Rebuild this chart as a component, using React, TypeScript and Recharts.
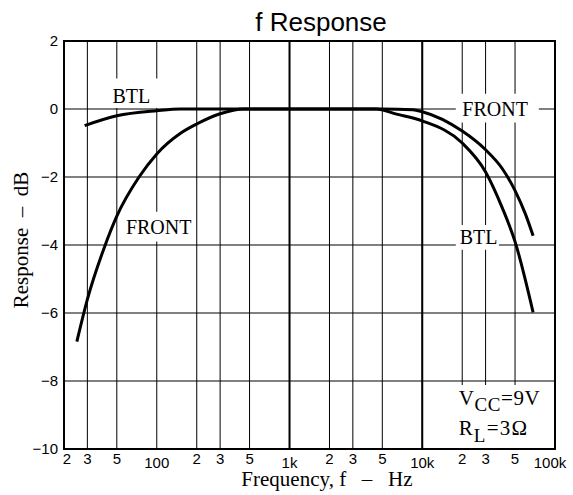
import { CartesianGrid, Line, LineChart, ReferenceArea, ReferenceDot, ReferenceLine, XAxis, YAxis } from "recharts"

const SANS = "'Liberation Sans', Arial, sans-serif"
const SERIF = "'Liberation Serif', 'Times New Roman', serif"

// log frequency grid, labelled 2 3 5 100 2 3 5 1k ...
const xTicks = [20, 30, 50, 100, 200, 300, 500, 1000, 2000, 3000, 5000, 10000, 20000, 30000, 50000, 100000]
const xTickLabels = ["2", "3", "5", "100", "2", "3", "5", "1k", "2", "3", "5", "10k", "2", "3", "5", "100k"]
const yTicks = [-10, -8, -6, -4, -2, 0, 2]

// FRONT curve (Hz, dB)
const frontFreq = [25, 30, 40, 50, 73.5, 100, 150, 200, 300, 450, 1000, 5000, 8500, 10000, 20000, 30000, 40000, 50000, 60000, 68400]
const frontDb = [-6.84, -5.6, -4.1, -3.15, -2.0, -1.32, -0.72, -0.44, -0.14, 0, 0, 0, -0.02, -0.08, -0.65, -1.2, -1.75, -2.4, -3.1, -3.73]

// BTL curve (Hz, dB)
const btlFreq = [28.6, 50, 100, 150, 1000, 4500, 6400, 10000, 20000, 30000, 40000, 50000, 68400]
const btlDb = [-0.49, -0.2, -0.05, 0, 0, 0, -0.15, -0.35, -1.0, -1.85, -2.9, -3.9, -5.98]

const frontData = frontFreq.map((f, i) => ({ f, db: frontDb[i] }))
const btlData = btlFreq.map((f, i) => ({ f, db: btlDb[i] }))

const decades = [100, 1000, 10000, 100000]

function XTick(props: any) {
  const { x, y, payload } = props
  const v = payload.value
  const idx = xTicks.indexOf(v)
  const isDecade = decades.includes(v)
  let dx = 0
  if (v === 20) dx = 3
  if (v === 100000) dx = -5
  return (
    <text x={x + dx} y={y + (isDecade ? 18.5 : 15)} textAnchor="middle" fontSize={15} fontFamily={SANS} fill="#000">
      {xTickLabels[idx]}
    </text>
  )
}

function serifLabel(txt: string) {
  return (p: any) => (
    <text x={p.cx} y={p.cy} textAnchor="middle" fontSize={20} fontFamily={SERIF} fill="#000">
      {txt}
    </text>
  )
}

export default function App() {
  return (
    <div style={{ position: "absolute", left: 0, top: 0, width: 573, height: 495, background: "#fff" }}>
      <div
        style={{
          position: "absolute",
          left: 321,
          top: 9,
          transform: "translateX(-50%)",
          fontFamily: SANS,
          fontSize: 26,
          lineHeight: "26px",
          whiteSpace: "nowrap",
        }}
      >
        f Response
      </div>
      <LineChart width={573} height={495} margin={{ top: 41, right: 18, left: 0, bottom: 0 }}>
        <CartesianGrid stroke="#000" strokeWidth={1} />
        <XAxis
          dataKey="f"
          type="number"
          scale="log"
          domain={[20, 100000]}
          ticks={xTicks}
          allowDataOverflow
          height={46}
          axisLine={false}
          tickLine={false}
          tickSize={0}
          tickMargin={0}
          interval={0}
          tick={<XTick />}
          label={{
            content: (p: any) => (
              <text
                x={327}
                y={p.viewBox.y + 37}
                textAnchor="middle"
                fontSize={21}
                fontFamily={SERIF}
                fill="#000"
                style={{ whiteSpace: "pre" }}
              >
                {"Frequency, f   –   Hz"}
              </text>
            ),
          }}
        />
        <YAxis
          type="number"
          domain={[-10, 2]}
          ticks={yTicks}
          width={64}
          axisLine={false}
          tickLine={false}
          tickSize={0}
          tickMargin={6}
          interval={0}
          tick={{ fontSize: 15, fill: "#000", fontFamily: SANS }}
          tickFormatter={(v: number) => String(v).replace("-", "\u2212")}
          label={{
            content: (p: any) => {
              const cx = 21
              const cy = p.viewBox.y + p.viewBox.height / 2 - 5
              return (
                <text
                  x={cx}
                  y={cy}
                  transform={`rotate(-90 ${cx} ${cy})`}
                  textAnchor="middle"
                  dominantBaseline="central"
                  fontSize={21}
                  fontFamily={SERIF}
                  fill="#000"
                  style={{ whiteSpace: "pre" }}
                >
                  {"Response  –  dB"}
                </text>
              )
            },
          }}
        />
        <ReferenceLine x={1000} stroke="#000" strokeWidth={2} />
        <ReferenceLine x={10000} stroke="#000" strokeWidth={2} />

        {/* white boxes behind the curve labels */}
        <ReferenceArea x1={40.5} x2={110} y1={0.03} y2={0.9} fill="#fff" fillOpacity={1} stroke="none" />
        <ReferenceArea x1={54.5} x2={190} y1={-3.9} y2={-3.02} fill="#fff" fillOpacity={1} stroke="none" />
        <ReferenceArea x1={17900} x2={37800} y1={-4.14} y2={-3.41} fill="#fff" fillOpacity={1} stroke="none" />
        <ReferenceArea x1={17900} x2={75500} y1={-0.4} y2={0.45} fill="#fff" fillOpacity={1} stroke="none" />
        <ReferenceArea x1={16700} x2={59300} y1={-9.97} y2={-8.12} fill="#fff" fillOpacity={1} stroke="none" />

        <Line data={frontData} dataKey="db" type="monotone" stroke="#000" strokeWidth={3} dot={false} isAnimationActive={false} />
        <Line data={btlData} dataKey="db" type="monotone" stroke="#000" strokeWidth={3} dot={false} isAnimationActive={false} />

        <ReferenceArea x1={20} x2={100000} y1={-10} y2={2} fill="none" stroke="#000" strokeWidth={2} />

        <ReferenceDot x={64.4} y={0.19} r={0} shape={serifLabel("BTL")} />
        <ReferenceDot x={103.4} y={-3.67} r={0} shape={serifLabel("FRONT")} />
        <ReferenceDot x={26600} y={-3.975} r={0} shape={serifLabel("BTL")} />
        <ReferenceDot x={35400} y={-0.218} r={0} shape={serifLabel("FRONT")} />
        <ReferenceDot
          x={18800}
          y={-8.71}
          r={0}
          shape={(p: any) => (
            <text x={p.cx} y={p.cy} fontSize={21} letterSpacing={0.6} fontFamily={SERIF} fill="#000">
              <tspan>V</tspan>
              <tspan dy={6} fontSize={19}>CC</tspan>
              <tspan dy={-6}>=9V</tspan>
            </text>
          )}
        />
        <ReferenceDot
          x={18800}
          y={-9.59}
          r={0}
          shape={(p: any) => (
            <text x={p.cx} y={p.cy} fontSize={21} letterSpacing={1.2} fontFamily={SERIF} fill="#000">
              <tspan>R</tspan>
              <tspan dy={7} fontSize={19}>L</tspan>
              <tspan dy={-7}>=3Ω</tspan>
            </text>
          )}
        />
      </LineChart>
    </div>
  )
}
